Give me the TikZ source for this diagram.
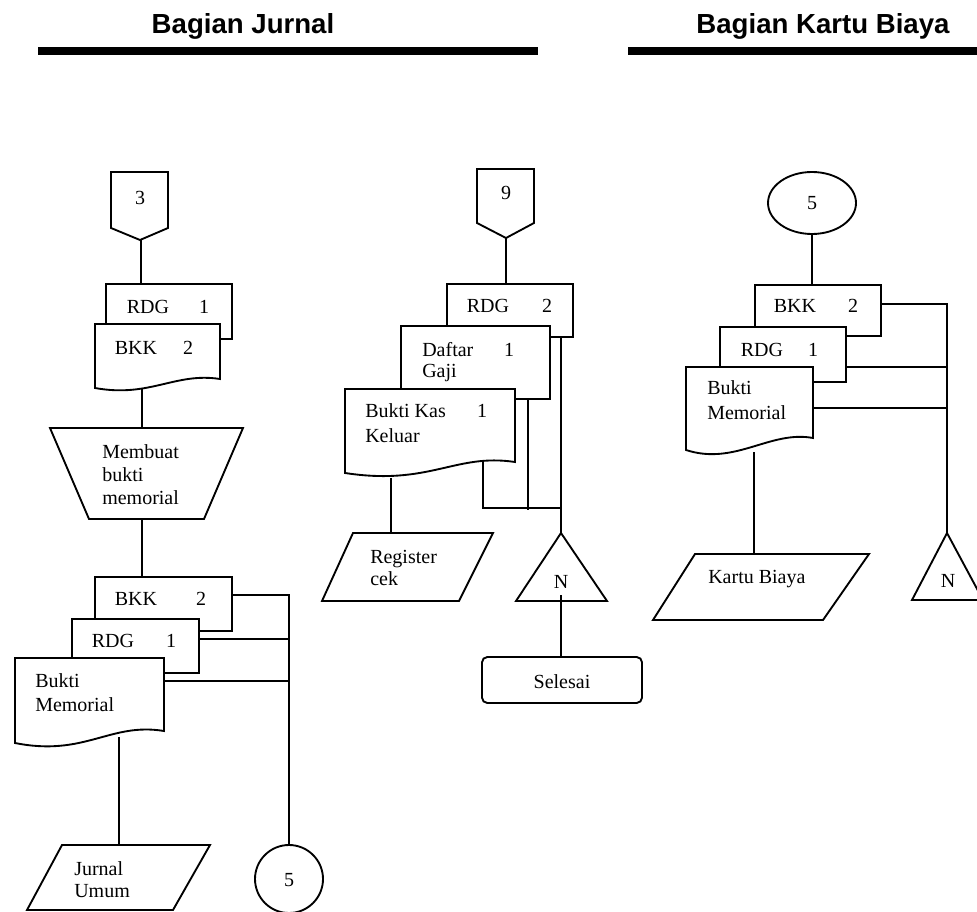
\documentclass[tikz,border=0pt]{standalone}
\usepackage{fontspec}
\setmainfont{Liberation Serif}
\newfontfamily\hdrfont{Liberation Sans}
\begin{document}
\begin{tikzpicture}[x=0.75pt,y=-0.75pt,line join=miter,
  shp/.style={draw=black,fill=white,line width=1.4pt},
  con/.style={draw=black,line width=1.1pt},
  txt/.style={inner sep=0pt,anchor=base,font=\fontsize{15}{17}\selectfont},
  ltxt/.style={inner sep=0pt,anchor=base west,font=\fontsize{15}{17}\selectfont},
  hdr/.style={inner sep=0pt,anchor=base,font=\hdrfont\bfseries\fontsize{20.7}{24}\selectfont},
  bar/.style={draw=black,line width=6.5pt}]
\useasboundingbox (0,0) rectangle (977,912);

% ---------- headers ----------
\node[hdr] (h1) at (243,34) {Bagian Jurnal};
\node[hdr] (h2) at (823,34) {Bagian Kartu Biaya};
\draw[bar] (38,51) -- (538,51);
\draw[bar] (628,51) -- (977,51);

% ---------- left column ----------
\draw[shp] (111,172) -- (168,172) -- (168,228) -- (140,240) -- (111,228) -- cycle;
\node[txt] (c3) at (140,205) {3};
\coordinate (c3b) at (141,240);
\coordinate (rA) at (141,284);
\draw[con] (c3b) -- (rA);

\draw[shp] (106,284) rectangle (232,339);
\node[txt] (rAt) at (148,314) {RDG};
\node[txt] (rAn) at (204,314) {1};
\draw[shp] (95,324) -- (220,324) -- (220,379) .. controls (175,372) and (150,398) .. (95,388) -- cycle;
\node[txt] (bAt) at (136,355) {BKK};
\node[txt] (bAn) at (188,355) {2};

\coordinate (bAb) at (142,388);
\coordinate (mt) at (142,428);
\draw[con] (bAb) -- (mt);
\draw[shp] (50,428) -- (243,428) -- (204,519) -- (89,519) -- cycle;
\node[ltxt] (m1) at (102,458) {Membuat};
\node[ltxt] (m2) at (102,481) {bukti};
\node[ltxt] (m3) at (102,504) {memorial};
\coordinate (mb) at (142,519);
\coordinate (bBt) at (142,577);
\draw[con] (mb) -- (bBt);

\draw[shp] (95,577) rectangle (232,631);
\node[txt] (bBx) at (136,605) {BKK};
\node[txt] (bBn) at (201,605) {2};
\draw[shp] (72,619) rectangle (199,673);
\node[txt] (rBx) at (113,647) {RDG};
\node[txt] (rBn) at (171,647) {1};
\draw[shp] (15,658) -- (164,658) -- (164,731) .. controls (110,722) and (85,757) .. (15,743) -- cycle;
\node[ltxt] (mB1) at (35,687) {Bukti};
\node[ltxt] (mB2) at (35,711) {Memorial};

\draw[shp] (289,879) circle[radius=25.5pt];
\node[txt] (k5) at (289,886) {5};
\coordinate (bBr) at (232,595);
\coordinate (rBr) at (199,639);
\coordinate (mBr) at (164,681);
\coordinate (j1) at (289,595);
\coordinate (j2) at (289,639);
\coordinate (j3) at (289,681);
\coordinate (k5t) at (289,845);
\draw[con] (bBr) -- (j1) -- (k5t);
\draw[con] (rBr) -- (j2);
\draw[con] (mBr) -- (j3);

\coordinate (mBb) at (119,737);
\coordinate (juT) at (119,845);
\draw[con] (mBb) -- (juT);
\draw[shp] (62,845) -- (210,845) -- (173,910) -- (27,910) -- cycle;
\node[ltxt] (ju1) at (74,875) {Jurnal};
\node[ltxt] (ju2) at (74,897) {Umum};

% ---------- middle column ----------
\draw[shp] (477,169) -- (534,169) -- (534,223) -- (506,238) -- (477,223) -- cycle;
\node[txt] (c9) at (506,200) {9};
\coordinate (c9b) at (506,238);
\coordinate (rCt) at (506,284);
\draw[con] (c9b) -- (rCt);

\draw[shp] (447,284) rectangle (573,337);
\node[txt] (rCx) at (488,313) {RDG};
\node[txt] (rCn) at (547,313) {2};
\draw[shp] (401,326) rectangle (550,399);
\node[ltxt] (dg1) at (422,357) {Daftar};
\node[txt] (dgn) at (509,357) {1};
\node[ltxt] (dg2) at (422,378) {Gaji};
\draw[shp] (345,389) -- (515,389) -- (515,462) .. controls (455,453) and (430,486) .. (345,473) -- cycle;
\node[ltxt] (bk1) at (365,417) {Bukti Kas};
\node[txt] (bkn) at (482,417) {1};
\node[ltxt] (bk2) at (365,442) {Keluar};

\coordinate (rCb) at (561,337);
\coordinate (nMt) at (561,533);
\coordinate (dgb) at (528,399);
\coordinate (dgj) at (528,510);
\coordinate (bkb) at (483,460);
\coordinate (bkc) at (483,508);
\coordinate (bkj) at (561,508);
\draw[con] (rCb) -- (nMt);
\draw[con] (dgb) -- (dgj);
\draw[con] (bkb) -- (bkc) -- (bkj);

\coordinate (bkd) at (391,478);
\coordinate (rgt) at (391,533);
\draw[con] (bkd) -- (rgt);
\draw[shp] (353,533) -- (493,533) -- (459,601) -- (322,601) -- cycle;
\node[ltxt] (rg1) at (370,563) {Register};
\node[ltxt] (rg2) at (370,585) {cek};

\draw[shp] (561,533) -- (607,601) -- (516,601) -- cycle;
\node[txt] (nM) at (561,588) {N};
\coordinate (nMb) at (561,595);
\coordinate (slt) at (561,657);
\draw[con] (nMb) -- (slt);
\draw[shp,rounded corners=4pt] (482,657) rectangle (642,703);
\node[txt] (sl) at (562,688) {Selesai};

% ---------- right column ----------
\draw[shp] (812,203) ellipse[x radius=33pt,y radius=23.25pt];
\node[txt] (e5) at (812,210) {5};
\coordinate (e5b) at (812,234);
\coordinate (bDt) at (812,285);
\draw[con] (e5b) -- (bDt);

\draw[shp] (755,285) rectangle (881,336);
\node[txt] (bDx) at (795,313) {BKK};
\node[txt] (bDn) at (853,313) {2};
\draw[shp] (720,327) rectangle (846,382);
\node[txt] (rDx) at (762,357) {RDG};
\node[txt] (rDn) at (813,357) {1};
\draw[shp] (686,367) -- (813,367) -- (813,438) .. controls (770,430) and (735,466) .. (686,450) -- cycle;
\node[ltxt] (mD1) at (707,395) {Bukti};
\node[ltxt] (mD2) at (707,419) {Memorial};

\coordinate (bDr) at (881,304);
\coordinate (rDr) at (846,367);
\coordinate (mDr) at (813,408);
\coordinate (q1) at (947,304);
\coordinate (q2) at (947,367);
\coordinate (q3) at (947,408);
\coordinate (nRt) at (947,533);
\draw[con] (bDr) -- (q1) -- (nRt);
\draw[con] (rDr) -- (q2);
\draw[con] (mDr) -- (q3);

\coordinate (mDb) at (754,452);
\coordinate (kbt) at (754,554);
\draw[con] (mDb) -- (kbt);
\draw[shp] (695,554) -- (869,554) -- (823,620) -- (653,620) -- cycle;
\node[ltxt] (kb) at (708,583) {Kartu Biaya};

\draw[shp] (947,533) -- (983,600) -- (912,600) -- cycle;
\node[txt] (nR) at (948,587) {N};
\end{tikzpicture}
\end{document}
